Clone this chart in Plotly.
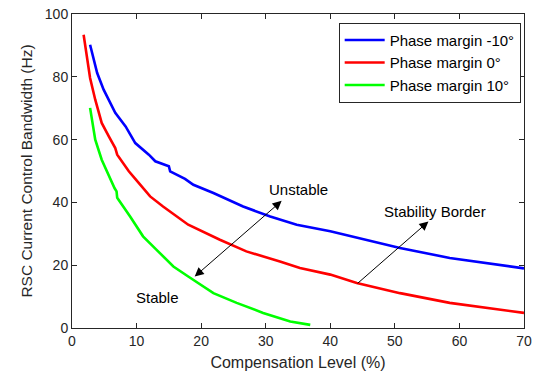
import plotly.graph_objects as go

# Compensation level (%) and bandwidth (Hz)
blue_x = [2.8, 3.9, 4.9, 6.7, 8.3, 9.8, 11.9, 12.9, 15.0, 15.2, 17.5, 18.8, 21.9, 26.5,
          30.7, 34.8, 40.0, 45.6, 50.8, 58.5, 63.7, 70.0]
blue_y = [90.2, 81.2, 75.9, 68.5, 64.2, 58.9, 55.2, 53.1, 51.5, 49.9, 47.5, 45.6, 43.0, 38.7,
          35.5, 32.9, 30.8, 28.1, 25.5, 22.3, 20.7, 19.0]

red_x = [1.8, 2.3, 2.8, 3.6, 4.6, 5.7, 6.7, 7.0, 8.8, 9.8, 12.1, 14.1, 15.2, 18.0, 22.9,
         27.0, 32.2, 35.3, 40.0, 44.1, 50.8, 58.5, 70.0]
red_y = [93.4, 86.5, 79.6, 72.7, 65.3, 61.0, 57.3, 55.2, 49.9, 47.5, 41.9, 38.7, 37.1, 32.9, 28.1,
         24.4, 21.2, 19.1, 17.0, 14.3, 11.1, 8.0, 4.8]

green_x = [2.8, 3.6, 4.6, 5.8, 6.6, 6.9, 7.0, 9.0, 11.0, 13.1, 15.7, 18.0, 21.9, 25.5, 29.6,
           33.8, 36.9]
green_y = [70.1, 60.0, 53.6, 47.8, 44.5, 43.5, 41.5, 35.5, 29.2, 24.9, 19.6, 16.4, 11.1, 8.0, 4.8,
           2.1, 1.0]

series_names = ["Phase margin -10°", "Phase margin 0°", "Phase margin 10°"]
series_colors = ["#0000FF", "#FF0000", "#00FF00"]

x_ticks = [0, 10, 20, 30, 40, 50, 60, 70]
y_ticks = [0, 20, 40, 60, 80, 100]

FONT = "Arial, Liberation Sans, sans-serif"
AX = "#262626"

fig = go.Figure()
for xs, ys, name, col in zip([blue_x, red_x, green_x], [blue_y, red_y, green_y],
                             series_names, series_colors):
    fig.add_trace(go.Scatter(x=xs, y=ys, mode="lines", name=name,
                             line=dict(color=col, width=2.6)))

# annotations
fig.add_annotation(x=19.0, y=16.4, ax=32.7, ay=40.9, xref="x", yref="y", axref="x", ayref="y",
                   text="", showarrow=True, arrowhead=2, startarrowhead=2, arrowside="end+start",
                   arrowwidth=1, arrowsize=1.8, startarrowsize=1.8, arrowcolor="black")
fig.add_annotation(x=55.2, y=33.9, ax=44.0, ay=13.8, xref="x", yref="y", axref="x", ayref="y",
                   text="", showarrow=True, arrowhead=2, arrowwidth=1, arrowsize=1.8,
                   arrowcolor="black")
fig.add_annotation(x=35.1, y=44.0, text="Unstable", showarrow=False,
                   font=dict(family=FONT, size=15, color="black"))
fig.add_annotation(x=56.2, y=37.1, text="Stability Border", showarrow=False,
                   font=dict(family=FONT, size=15, color="black"))
fig.add_annotation(x=13.3, y=9.6, text="Stable", showarrow=False,
                   font=dict(family=FONT, size=15, color="black"))

axis_common = dict(showgrid=False, zeroline=False, showline=True, linecolor=AX, linewidth=1,
                   mirror="ticks", ticks="inside", ticklen=5, tickcolor=AX, tickwidth=1,
                   automargin=False,
                   tickfont=dict(family=FONT, size=14, color=AX))

fig.update_xaxes(range=[0, 70], tickvals=x_ticks,
                 title=dict(text="Compensation Level (%)", standoff=9,
                            font=dict(family=FONT, size=16, color=AX)),
                 **axis_common)
fig.update_yaxes(range=[0, 100], tickvals=y_ticks,
                 title=dict(text="RSC Current Control Bandwidth (Hz)", standoff=8,
                            font=dict(family=FONT, size=15.5, color=AX)),
                 **axis_common)

fig.update_layout(
    width=547, height=375,
    margin=dict(l=72, r=23, t=14, b=47),
    plot_bgcolor="white", paper_bgcolor="white",
    font=dict(family=FONT, color=AX),
    legend=dict(x=0.59, y=0.972, xanchor="left", yanchor="top",
                bgcolor="white", bordercolor=AX, borderwidth=1,
                font=dict(family=FONT, size=15, color="black"),
                tracegroupgap=0, itemwidth=40),
)

fig.write_html("out.html")
